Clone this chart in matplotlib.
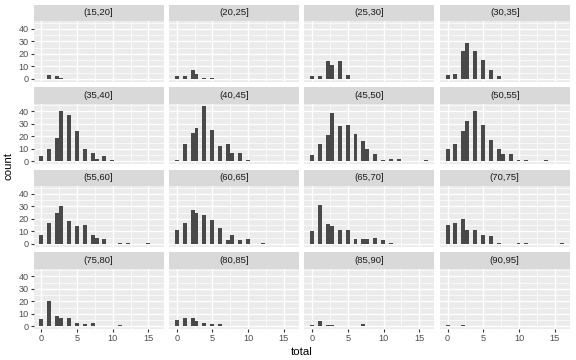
import numpy as np
import matplotlib.pyplot as plt

plt.rcParams['font.family'] = ['Liberation Sans', 'DejaVu Sans']

facets = ['(15,20]', '(20,25]', '(25,30]', '(30,35]',
          '(35,40]', '(40,45]', '(45,50]', '(50,55]',
          '(55,60]', '(60,65]', '(65,70]', '(70,75]',
          '(75,80]', '(80,85]', '(85,90]', '(90,95]']

# total = 0..16
totals = np.arange(17)

counts = [
    [0, 3, 2, 1, 0, 0, 0, 0, 0, 0, 0, 0, 0, 0, 0, 0, 0],
    [2, 2, 7, 4, 1, 1, 0, 0, 0, 0, 0, 0, 0, 0, 0, 0, 0],
    [2, 2, 14, 11, 14, 3, 0, 0, 0, 0, 0, 0, 0, 0, 0, 0, 0],
    [3, 4, 22, 29, 22, 15, 7, 2, 0, 0, 0, 0, 0, 0, 0, 0, 0],
    [4, 10, 19, 40, 37, 24, 10, 7, 2, 4, 1, 0, 0, 0, 0, 0, 0],
    [1, 14, 23, 27, 44, 25, 12, 14, 7, 7, 1, 0, 0, 0, 0, 0, 0],
    [5, 14, 21, 39, 28, 29, 22, 16, 10, 6, 1, 2, 2, 0, 0, 0, 1],
    [10, 14, 24, 32, 40, 29, 17, 10, 6, 6, 1, 1, 0, 0, 1, 0, 0],
    [7, 17, 25, 30, 18, 14, 15, 7, 5, 4, 0, 1, 1, 0, 0, 1, 0],
    [11, 17, 27, 25, 23, 19, 13, 3, 7, 3, 4, 0, 1, 0, 0, 0, 0],
    [10, 31, 16, 14, 11, 11, 4, 4, 4, 5, 3, 1, 0, 0, 0, 0, 0],
    [15, 17, 20, 11, 11, 7, 6, 1, 0, 0, 1, 1, 0, 0, 0, 0, 1],
    [6, 20, 8, 7, 7, 3, 2, 3, 0, 0, 0, 1, 0, 0, 0, 0, 0],
    [5, 7, 7, 4, 3, 2, 2, 0, 0, 0, 0, 0, 0, 0, 0, 0, 0],
    [1, 4, 1, 1, 0, 0, 0, 2, 0, 0, 0, 0, 0, 0, 0, 0, 0],
    [1, 0, 1, 0, 0, 0, 0, 0, 0, 0, 0, 0, 0, 0, 0, 0, 0],
]

# 30 bins over 0..16, right-closed like geom_histogram
binwidth = 16 / 29
bin_idx = np.ceil(totals / binwidth - 0.5)
centers = bin_idx * binwidth

W, H = 576, 360
fig = plt.figure(figsize=(W / 100, H / 100), dpi=100)

left, top = 33.5, 4.7
pw, gap = 130.0, 5.4
sh, ph, step = 16.5, 60.5, 82.5

for i, (lab, c) in enumerate(zip(facets, counts)):
    r, col = divmod(i, 4)
    x0 = left + col * (pw + gap)
    y0 = top + r * step

    strip = fig.add_axes([x0 / W, 1 - (y0 + sh) / H, pw / W, sh / H])
    strip.set_facecolor('#D9D9D9')
    strip.set_xticks([])
    strip.set_yticks([])
    for s in strip.spines.values():
        s.set_visible(False)
    strip.text(0.5, 0.5, lab, ha='center', va='center', fontsize=6.8,
               color='#1A1A1A', transform=strip.transAxes)

    ax = fig.add_axes([x0 / W, 1 - (y0 + sh + ph) / H, pw / W, ph / H])
    ax.bar(centers, c, width=binwidth, color='#494949', linewidth=0)
    ax.set_xlim(-binwidth / 2 - 0.8276, 16 + binwidth / 2 + 0.8276)
    ax.set_ylim(-2.2, 46.2)
    ax.set_facecolor('#EBEBEB')
    for s in ax.spines.values():
        s.set_visible(False)
    ax.set_xticks([0, 5, 10, 15])
    ax.set_xticks([2.5, 7.5, 12.5], minor=True)
    ax.set_yticks([0, 10, 20, 30, 40])
    ax.set_yticks([5, 15, 25, 35, 45], minor=True)
    ax.set_axisbelow(True)
    ax.grid(which='major', color='white', linewidth=1.0)
    ax.grid(which='minor', color='white', linewidth=0.5)
    ax.tick_params(which='minor', length=0)
    ax.tick_params(which='major', length=2, width=0.8, color='#333333',
                   labelsize=6.6, labelcolor='#4D4D4D', pad=1.5)
    if col != 0:
        ax.tick_params(axis='y', left=False, labelleft=False)
    if r != 3:
        ax.tick_params(axis='x', bottom=False, labelbottom=False)

fig.text(302 / W, 1 - 352 / H, 'total', ha='center', va='center', fontsize=8.2)
fig.text(9 / W, 1 - 166 / H, 'count', ha='center', va='center', fontsize=8.2,
         rotation=90)

fig.savefig('out.png', dpi=100)
